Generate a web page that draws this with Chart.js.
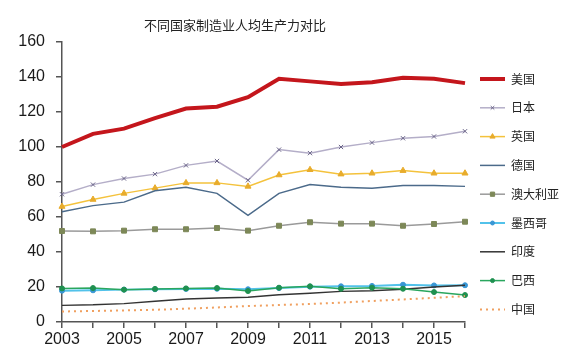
<!DOCTYPE html>
<html>
<head>
<meta charset="utf-8">
<script src="https://cdn.jsdelivr.net/npm/chart.js@4.4.0/dist/chart.umd.min.js"></script>
<style>
  html, body { margin: 0; padding: 0; background: #fff; }
  #chart { display: block; }
</style>
</head>
<body>
<canvas id="chart" width="567" height="362"></canvas>
<script>
const chartTitle = '不同国家制造业人均生产力对比';
const years = ['2003', '2004', '2005', '2006', '2007', '2008', '2009', '2010', '2011', '2012', '2013', '2014', '2015', '2016'];
const seriesNames = ['美国', '日本', '英国', '德国', '澳大利亚', '墨西哥', '印度', '巴西', '中国'];

const usa = [100, 107.5, 110.5, 116.5, 122, 123, 128.5, 139, 137.5, 136, 137, 139.5, 139, 136.5];
const japan = [73, 78.5, 82, 84.5, 89.5, 92, 81, 98.5, 96.5, 100, 102.5, 105, 106, 109];
const uk = [66, 70, 73.5, 76.5, 79.5, 79.5, 77.5, 84, 87, 84.5, 85, 86.5, 85, 85];
const germany = [63, 66.5, 68.5, 75, 77, 73.5, 61, 73.5, 78.5, 77, 76.5, 78, 78, 77.5];
const australia = [52, 51.8, 52.2, 53, 53, 53.7, 52.2, 55, 57, 56.2, 56.2, 55, 56, 57.3];
const mexico = [17.9, 18.1, 18.5, 18.7, 18.9, 19, 18.7, 19.4, 20.2, 20.4, 20.6, 21.3, 20.9, 21];
const india = [9.5, 9.8, 10.5, 11.8, 13.1, 13.7, 14.1, 15.6, 16.4, 17.5, 17.9, 18.7, 20, 21];
const brazil = [19.2, 19.4, 18.5, 18.9, 19.2, 19.4, 17.7, 19.6, 20.4, 19, 19.6, 19, 17.1, 15.4];
const china = [6, 6.3, 6.6, 7, 7.6, 8.3, 9.1, 9.7, 10.3, 11.1, 12, 12.9, 13.8, 14.8];

const seriesValues = [usa, japan, uk, germany, australia, mexico, india, brazil, china];

const styles = [
    { color: '#c4161c', width: 4, point: false },
    { color: '#b4aec8', width: 1.5, point: 'crossRot', pointColor: '#6a6488', radius: 3 },
    { color: '#f4c23c', width: 1.5, point: 'triangle', pointColor: '#e8ac2c', radius: 3.5 },
    { color: '#4b6a8a', width: 1.5, point: false },
    { color: '#9a9a9a', width: 1.5, point: 'rect', pointColor: '#7d8858', radius: 3.5 },
    { color: '#52c2ea', width: 2, point: 'circle', pointColor: '#3896d4', radius: 2.5 },
    { color: '#333333', width: 1.5, point: false },
    { color: '#2aa65e', width: 1.5, point: 'circle', pointColor: '#1f9050', radius: 2.5 },
    { color: '#f0a060', width: 2, point: false, dash: [2, 4] }
];

const datasets = seriesNames.map((name, i) => {
    const s = styles[i];
    return {
        label: name,
        data: seriesValues[i],
        borderColor: s.color,
        backgroundColor: s.pointColor || s.color,
        borderWidth: s.width,
        borderDash: s.dash || [],
        tension: 0,
        fill: false,
        pointStyle: s.point || 'circle',
        pointRadius: s.point ? s.radius : 0,
        pointBackgroundColor: s.pointColor || s.color,
        pointBorderColor: s.pointColor || s.color,
        pointBorderWidth: 1,
        order: 9 - i
    };
});

const titleAndLegend = {
    id: 'titleAndLegend',
    afterDraw(chart) {
        const ctx = chart.ctx;
        ctx.save();
        ctx.fillStyle = '#222';
        ctx.font = '13px "Noto Sans CJK SC", sans-serif';
        ctx.textAlign = 'center';
        ctx.textBaseline = 'middle';
        ctx.fillText(chartTitle, 235, 25);

        ctx.textAlign = 'left';
        ctx.font = '12px "Noto Sans CJK SC", sans-serif';
        chart.data.datasets.forEach((ds, i) => {
            const y = 79 + i * 28.8;
            ctx.save();
            ctx.strokeStyle = ds.borderColor;
            ctx.lineWidth = ds.borderWidth;
            ctx.setLineDash(ds.borderDash);
            ctx.beginPath();
            ctx.moveTo(480, y);
            ctx.lineTo(505, y);
            ctx.stroke();
            ctx.restore();
            if (ds.pointRadius > 0) {
                ctx.save();
                ctx.fillStyle = ds.pointBackgroundColor;
                ctx.strokeStyle = ds.pointBorderColor;
                Chart.helpers.drawPoint(ctx, { pointStyle: ds.pointStyle, radius: ds.pointRadius - 0.5, borderWidth: 1, rotation: 0 }, 492.5, y);
                ctx.restore();
            }
            ctx.fillStyle = '#222';
            ctx.fillText(ds.label, 511, y);
        });
        ctx.restore();
    }
};

new Chart(document.getElementById('chart'), {
    type: 'line',
    data: { labels: years, datasets },
    options: {
        responsive: false,
        animation: false,
        devicePixelRatio: 1,
        layout: { padding: { left: 8, right: 102, top: 42, bottom: 0 } },
        plugins: {
            legend: { display: false },
            title: { display: false },
            tooltip: { enabled: false }
        },
        scales: {
            x: {
                offset: false,
                afterFit: scale => { scale.height = 40; },
                grid: { drawOnChartArea: false, drawTicks: true, tickLength: 6, color: '#555', lineWidth: 1.5 },
                border: { display: true, color: '#555', width: 1.5 },
                ticks: {
                    autoSkip: false,
                    maxRotation: 0,
                    padding: 2,
                    color: '#1a1a1a',
                    font: { size: 16, family: '"Liberation Sans", Arial, sans-serif' },
                    callback: (val, i) => (i % 2 === 0 ? years[i] : '')
                }
            },
            y: {
                min: 0,
                max: 160,
                afterFit: scale => { scale.width = 54; },
                grid: { drawOnChartArea: false, drawTicks: true, tickLength: 6, color: '#555', lineWidth: 1.5 },
                border: { display: true, color: '#555', width: 1.5 },
                ticks: {
                    stepSize: 20,
                    padding: 11,
                    color: '#1a1a1a',
                    font: { size: 16, family: '"Liberation Sans", Arial, sans-serif' }
                }
            }
        }
    },
    plugins: [titleAndLegend]
});
</script>
</body>
</html>
